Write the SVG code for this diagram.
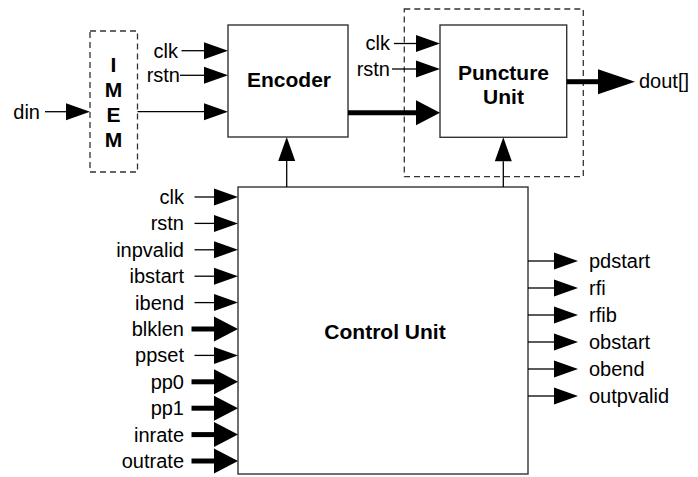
<svg xmlns="http://www.w3.org/2000/svg" width="698" height="477" viewBox="0 0 698 477">
<defs>
<style>
text{font-family:"Liberation Sans",Arial,Helvetica,sans-serif;font-size:20px;fill:#000}
.b{font-weight:bold;font-size:21px;text-anchor:middle}
.e{text-anchor:end}
.box{fill:#fff;stroke:#333;stroke-width:1.4}
.dash{fill:none;stroke:#333;stroke-width:1.3;stroke-dasharray:6,4}
.w{stroke:#000;stroke-width:1.3;fill:none;marker-end:url(#ah)}
.t{stroke:#000;stroke-width:5;fill:none;marker-end:url(#ahb)}
</style>
<marker id="ah" markerUnits="userSpaceOnUse" markerWidth="24" markerHeight="17" refX="0" refY="8.5" orient="auto" overflow="visible"><path d="M0,0 L24,8.5 L0,17 Z" fill="#000"/></marker>
<marker id="ahb" markerUnits="userSpaceOnUse" markerWidth="24" markerHeight="25" refX="0" refY="12.5" orient="auto" overflow="visible"><path d="M0,0 L24,12.5 L0,25 Z" fill="#000"/></marker>
<marker id="ahd" markerUnits="userSpaceOnUse" markerWidth="37" markerHeight="25" refX="0" refY="12.5" orient="auto" overflow="visible"><path d="M0,0 L37,12.5 L0,25 Z" fill="#000"/></marker>
</defs>
<rect width="698" height="477" fill="#fff"/>

<g id="imem">
<rect class="dash" x="90" y="31" width="47.5" height="141"/>
<text class="b" x="113.5" y="72">I</text>
<text class="b" x="113.5" y="97">M</text>
<text class="b" x="113.5" y="122">E</text>
<text class="b" x="113.5" y="147">M</text>
</g>

<g id="encoder">
<rect class="box" x="228" y="25" width="120" height="112"/>
<text class="b" x="289" y="87">Encoder</text>
</g>

<g id="puncture-wrap">
<rect class="dash" x="404.3" y="9" width="179" height="167.7"/>
</g>

<g id="puncture">
<rect class="box" x="440" y="25" width="126.7" height="112.3"/>
<text class="b" x="503.5" y="80">Puncture</text>
<text class="b" x="503.5" y="103.5">Unit</text>
</g>

<g id="control">
<rect class="box" x="238" y="187" width="290" height="287"/>
<text class="b" x="385" y="339">Control Unit</text>
</g>

<g id="labels">
<text class="e" x="40" y="118.5">din</text>
<text class="e" x="178" y="57.5">clk</text>
<text class="e" x="180" y="82">rstn</text>
<text class="e" x="390" y="50">clk</text>
<text class="e" x="390" y="75.5">rstn</text>
<text x="639" y="88">dout[]</text>
<text class="e" x="184" y="204">clk</text>
<text class="e" x="184" y="230.4">rstn</text>
<text class="e" x="184" y="256.8">inpvalid</text>
<text class="e" x="184" y="283.2">ibstart</text>
<text class="e" x="184" y="309.6">ibend</text>
<text class="e" x="184" y="336">blklen</text>
<text class="e" x="184" y="362.4">ppset</text>
<text class="e" x="184" y="388.8">pp0</text>
<text class="e" x="184" y="415.2">pp1</text>
<text class="e" x="184" y="441.6">inrate</text>
<text class="e" x="184" y="468">outrate</text>
<text x="589" y="267.5">pdstart</text>
<text x="589" y="294.5">rfi</text>
<text x="589" y="321.5">rfib</text>
<text x="589" y="348.5">obstart</text>
<text x="589" y="375.5">obend</text>
<text x="589" y="402.5">outpvalid</text>
</g>

<g id="connectors">
<line class="w" x1="45" y1="111.7" x2="66" y2="111.7"/>
<line class="w" x1="137.5" y1="111.7" x2="204" y2="111.7"/>
<line class="w" x1="181.5" y1="50.7" x2="204" y2="50.7"/>
<line class="w" x1="180" y1="75.3" x2="204" y2="75.3"/>
<line class="w" x1="394" y1="43.5" x2="416" y2="43.5"/>
<line class="w" x1="392" y1="69" x2="416" y2="69"/>
<line class="t" x1="348" y1="112.7" x2="416" y2="112.7"/>
<line x1="566.7" y1="81.7" x2="598" y2="81.7" stroke="#000" stroke-width="5" marker-end="url(#ahd)"/>
<line class="w" x1="286.7" y1="187" x2="286.7" y2="161"/>
<line class="w" x1="503.3" y1="187" x2="503.3" y2="161.3"/>

<line class="w" x1="194.5" y1="197" x2="214" y2="197"/>
<line class="w" x1="194.5" y1="223.4" x2="214" y2="223.4"/>
<line class="w" x1="194.5" y1="249.8" x2="214" y2="249.8"/>
<line class="w" x1="194.5" y1="276.2" x2="214" y2="276.2"/>
<line class="w" x1="194.5" y1="302.6" x2="214" y2="302.6"/>
<line class="t" x1="191.5" y1="329" x2="214" y2="329"/>
<line class="w" x1="194.5" y1="355.4" x2="214" y2="355.4"/>
<line class="t" x1="191.5" y1="381.8" x2="214" y2="381.8"/>
<line class="t" x1="191.5" y1="408.2" x2="214" y2="408.2"/>
<line class="t" x1="191.5" y1="434.6" x2="214" y2="434.6"/>
<line class="t" x1="191.5" y1="461" x2="214" y2="461"/>

<line class="w" x1="528" y1="261" x2="554" y2="261"/>
<line class="w" x1="528" y1="288" x2="554" y2="288"/>
<line class="w" x1="528" y1="315" x2="554" y2="315"/>
<line class="w" x1="528" y1="342" x2="554" y2="342"/>
<line class="w" x1="528" y1="369" x2="554" y2="369"/>
<line class="w" x1="528" y1="396" x2="554" y2="396"/>
</g>
</svg>
